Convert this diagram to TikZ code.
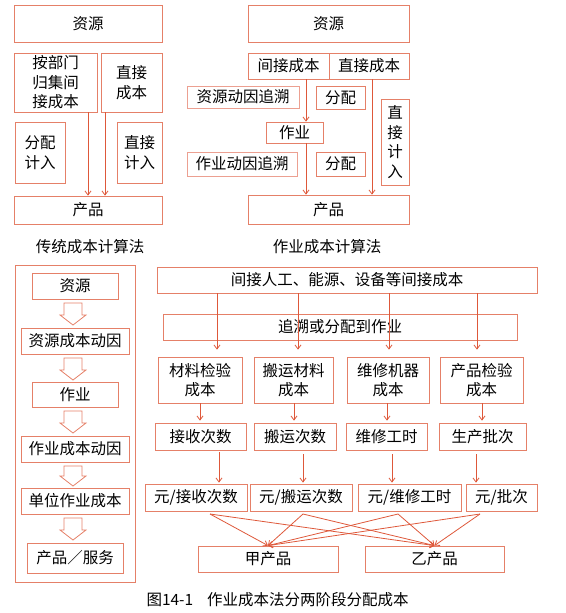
\documentclass[tikz,border=0pt]{standalone}
\usepackage{fontspec}
\setmainfont{Noto Sans CJK SC}
\usetikzlibrary{arrows.meta}
\definecolor{boxc}{RGB}{229,128,104}
\definecolor{lboxc}{RGB}{236,160,145}
\definecolor{arrc}{RGB}{222,88,58}
\newcommand\bx[7][]{\node[bx,#1,minimum width={(#5-#3)*1pt},minimum height={(#6-#4)*1pt}] (#2) at ({(#3+#5)/2},{(#4+#6)/2}) {#7};}
\newcommand\blockarr[2]{\draw[boxc,line width=0.8pt,line join=miter] (64,#1) -- (82,#1) -- (82,{#2-10}) -- (86,{#2-10}) -- (73,#2) -- (60,{#2-10}) -- (64,{#2-10}) -- cycle;}
\begin{document}
\begin{tikzpicture}[x=1pt,y=-1pt,
  font=\fontsize{15.5}{19.5}\selectfont,
  bx/.style={draw=boxc,line width=0.8pt,inner sep=0pt,align=center},
  arr/.style={draw=arrc,line width=0.8pt,-{Straight Barb[length=4pt,width=6pt]}}]
\useasboundingbox (0,0) rectangle (565,613);
% ---------- top left: traditional ----------
\bx{tlres}{14}{5}{162}{42}{资源}
\bx{tlind}{14}{53}{97}{112}{按部门\\归集间\\接成本}
\bx{tldir}{101}{53}{162}{112}{直接\\成本}
\bx{tlalloc}{15}{122}{65}{183}{分配\\计入}
\bx{tldin}{117}{122}{162}{183}{直接\\计入}
\bx{tlprod}{14}{196}{162}{224}{产品}
\node (tlcap) at (90,247) {传统成本计算法};
\coordinate (ta) at (88,0);
\coordinate (tb) at (105,0);
\draw[arr] (tlind.south -| ta) -- (tlprod.north -| ta);
\draw[arr] (tldir.south -| tb) -- (tlprod.north -| tb);
% ---------- top right: ABC ----------
\bx{trres}{248}{5}{409}{42}{资源}
\bx{trind}{248}{53}{329}{79}{间接成本}
\bx{trdir}{329}{53}{409}{79}{直接成本}
\bx[draw=lboxc]{trrd}{187}{86}{299}{108}{资源动因追溯}
\bx{tra1}{316}{86}{365}{109}{分配}
\bx{tract}{266}{122}{323}{143}{作业}
\bx[draw=lboxc]{trad}{187}{152}{297}{176}{作业动因追溯}
\bx{tra2}{316}{152}{365}{176}{分配}
\bx{trdin}{381}{99}{409}{185}{直\\接\\计\\入}
\bx{trprod}{248}{195}{409}{224}{产品}
\node (trcap) at (327,247) {作业成本计算法};
\coordinate (tc) at (306,0);
\coordinate (td) at (372,0);
\draw[arr] (trind.south -| tc) -- (tract.north -| tc);
\draw[arr] (tract.south -| tc) -- (trprod.north -| tc);
\draw[arr] (trdir.south -| td) -- (trprod.north -| td);
% ---------- bottom left: flow ----------
\bx{blframe}{15}{265}{135}{582}{}
\bx{b1}{32}{273}{118}{299}{资源}
\bx{b2}{21}{328}{129}{354}{资源成本动因}
\bx{b3}{32}{382}{118}{407}{作业}
\bx{b4}{21}{436}{129}{462}{作业成本动因}
\bx{b5}{21}{488}{129}{514}{单位作业成本}
\bx{b6}{27}{543}{123}{573}{产品／服务}
\blockarr{303}{325}
\blockarr{358}{380}
\blockarr{411}{433}
\blockarr{466}{486}
\blockarr{518}{540}
% ---------- bottom right: two stages ----------
\bx{big}{157}{267}{537}{293}{间接人工、能源、设备等间接成本}
\bx{trace}{163}{314}{517}{340}{追溯或分配到作业}
\bx{c1}{158}{357}{242}{403}{材料检验\\成本}
\bx{c2}{254}{357}{333}{403}{搬运材料\\成本}
\bx{c3}{347}{357}{429}{403}{维修机器\\成本}
\bx{c4}{440}{357}{523}{403}{产品检验\\成本}
\bx{d1}{155}{423}{246}{450}{接收次数}
\bx{d2}{254}{423}{336}{450}{搬运次数}
\bx{d3}{346}{423}{427}{450}{维修工时}
\bx{d4}{439}{423}{526}{450}{生产批次}
\bx{e1}{145}{484}{247}{511}{元/接收次数}
\bx{e2}{250}{484}{352}{511}{元/搬运次数}
\bx{e3}{358}{484}{461}{511}{元/维修工时}
\bx{e4}{466}{484}{537}{511}{元/批次}
\bx{jia}{198}{546}{338}{572}{甲产品}
\bx{yi}{365}{546}{504}{572}{乙产品}
\node[anchor=west] (cap) at (143,600) {图14-1\hspace{0.9em}作业成本法分两阶段分配成本};
% arrows big -> row1
\coordinate (k1) at (217,0); \coordinate (k2) at (298,0);
\coordinate (k3) at (389,0); \coordinate (k4) at (477,0);
\draw[arr,shorten >=7pt] (big.south -| k1) -- (c1.north -| k1);
\draw[arr,shorten >=7pt] (big.south -| k2) -- (c2.north -| k2);
\draw[arr,shorten >=7pt] (big.south -| k3) -- (c3.north -| k3);
\draw[arr,shorten >=7pt] (big.south -| k4) -- (c4.north -| k4);
% row1 -> row2
\coordinate (m1) at (200,0); \coordinate (m2) at (294,0);
\coordinate (m3) at (387,0); \coordinate (m4) at (482,0);
\draw[arr,shorten >=2pt] (c1.south -| m1) -- (d1.north -| m1);
\draw[arr,shorten >=2pt] (c2.south -| m2) -- (d2.north -| m2);
\draw[arr,shorten >=2pt] (c3.south -| m3) -- (d3.north -| m3);
\draw[arr,shorten >=2pt] (c4.south -| m4) -- (d4.north -| m4);
% row2 -> row3
\coordinate (n1) at (219,0); \coordinate (n2) at (303,0);
\coordinate (n3) at (392,0); \coordinate (n4) at (476,0);
\draw[arr,shorten <=2pt,shorten >=1pt] (d1.south -| n1) -- (e1.north -| n1);
\draw[arr,shorten <=4pt,shorten >=1pt] (d2.south -| n2) -- (e2.north -| n2);
\draw[arr,shorten <=4pt,shorten >=1pt] (d3.south -| n3) -- (e3.north -| n3);
\draw[arr,shorten <=4pt,shorten >=1pt] (d4.south -| n4) -- (e4.north -| n4);
% row3 -> products
\coordinate (s1) at (210,514); \coordinate (s2) at (303,514);
\coordinate (s3) at (398,514); \coordinate (s4) at (480,514);
\foreach \s in {s1,s2,s3,s4}{
  \draw[arr] (\s) -- (jia.north);
  \draw[arr] (\s) -- (yi.north);
}
\end{tikzpicture}
\end{document}
